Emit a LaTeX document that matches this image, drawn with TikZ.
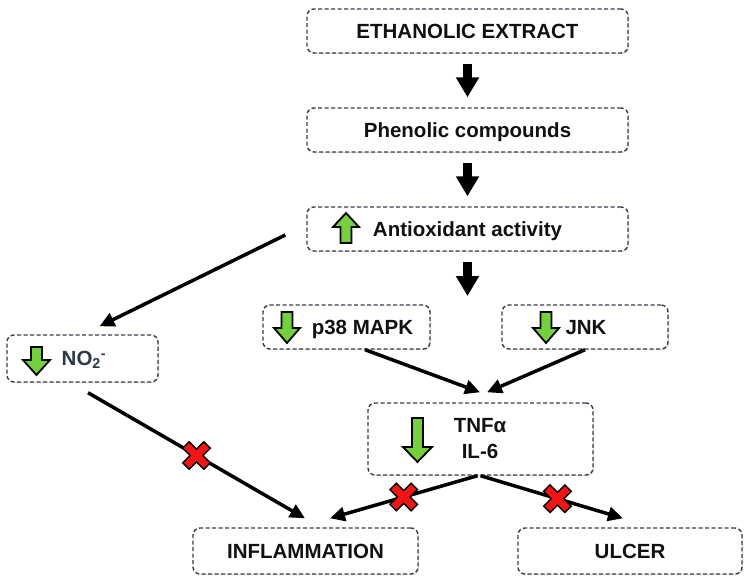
\documentclass[tikz,border=0pt]{standalone}
\usepackage{fontspec}
\setmainfont{Liberation Sans}
\usetikzlibrary{arrows.meta,calc,shadows}
\definecolor{bordc}{RGB}{55,60,75}
\definecolor{txtc}{RGB}{17,17,17}
\definecolor{no2c}{RGB}{45,55,75}
\definecolor{gfill}{RGB}{118,208,62}
\definecolor{xred}{RGB}{240,22,22}
\begin{document}
\begin{tikzpicture}[x=1pt,y=-1pt,
  box/.style={draw=bordc, dash pattern=on 4pt off 2.5pt, line width=1.4pt,
    rounded corners=7pt, fill=white, inner sep=0pt, text=txtc,
    font=\fontsize{20.5}{26}\bfseries\selectfont, text height=14.7pt, text depth=0pt,
    drop shadow={shadow xshift=1pt, shadow yshift=-1pt, fill=black, opacity=0.15}},
  lbl/.style={inner sep=0pt, text=txtc, font=\fontsize{20.5}{26}\bfseries\selectfont,
    text height=14.7pt, text depth=0pt},
  conn/.style={line width=3.5pt, draw=black, -{Triangle[length=15pt,width=14pt]}},
  blockarr/.style={line width=9pt, draw=black, -{Triangle[length=20pt,width=22pt]}},
  garr/.style={draw=black, line width=1.8pt, fill=gfill, line join=miter},
  xmark/.style={draw=black, line width=1.4pt, fill=xred, line join=miter},
  pics/gdown/.style n args={4}{code={
    \path[garr] (-#3/2,0) -- (#3/2,0) -- (#3/2,#2-#4) -- (#1/2,#2-#4) -- (0,#2)
      -- (-#1/2,#2-#4) -- (-#3/2,#2-#4) -- cycle;}},
  pics/redx/.style={code={
    \path[xmark, rotate=45] (4.5,4.5) -- (15,4.5) -- (15,-4.5) -- (4.5,-4.5) -- (4.5,-15)
      -- (-4.5,-15) -- (-4.5,-4.5) -- (-15,-4.5) -- (-15,4.5) -- (-4.5,4.5) -- (-4.5,15)
      -- (4.5,15) -- cycle;}}
]
\useasboundingbox (0,0) rectangle (749,583);

% boxes
\node[box, minimum width=321pt, minimum height=44pt] (ext) at (467.5,31) {ETHANOLIC EXTRACT};
\node[box, minimum width=321pt, minimum height=44pt] (phe) at (467.5,130) {Phenolic compounds};
\node[box, minimum width=321pt, minimum height=44pt] (anti) at (467.5,229) {Antioxidant activity};
\node[box, minimum width=167pt, minimum height=44pt] (p38) at (346.5,327) {};
\node[box, minimum width=166pt, minimum height=44pt] (jnk) at (585,327) {};
\node[box, minimum width=151pt, minimum height=47pt] (no2) at (82.5,358.5) {};
\node[box, minimum width=225pt, minimum height=72pt] (tnf) at (480.5,439) {};
\node[box, minimum width=225pt, minimum height=46pt] (infl) at (305.5,551) {INFLAMMATION};
\node[box, minimum width=224pt, minimum height=46pt] (ulcer) at (630,551) {ULCER};

% labels
\node[lbl] (p38t) at (362.5,327) {p38 MAPK};
\node[lbl] (jnkt) at (586,327) {JNK};
\node[lbl, text=no2c] (no2t) at (84,358.5) {NO\textsubscript{2}\textsuperscript{-}};
\node[lbl, align=center, text height=, text depth=] (tnft) at (480,438.5) {TNFα\\IL-6};

% green arrows
\pic[yscale=-1] at (346,243) {gdown={26}{30}{11}{14}};
\pic at (287,312) {gdown={26}{31}{11}{15}};
\pic at (546,312) {gdown={26}{31}{11}{15}};
\pic at (36.5,347) {gdown={27}{28}{11}{15}};
\pic at (417.5,418) {gdown={29}{44}{11}{15}};

% main block arrows
\coordinate (dn) at (467.5,296);
\draw[blockarr, shorten <=10pt, shorten >=10pt] (ext) -- (phe);
\draw[blockarr, shorten <=10pt, shorten >=10pt] (phe) -- (anti);
\draw[blockarr, shorten <=10pt] (anti) -- (dn);

% connectors
\draw[conn] ($(anti.west)+(-21,6)$) -- ($(no2.north)+(17,-8)$);
\draw[conn] ($(p38.south)+(18.5,0)$) -- ($(tnf.north)+(-0.5,-10)$);
\draw[conn] (jnk.south) -- ($(tnf.north)+(6.5,-10)$);
\draw[conn] ($(no2.south)+(5.5,10)$) -- ($(infl.north)+(-0.5,-9)$) coordinate[pos=0.5] (m1);
\draw[conn] ($(tnf.south)+(-3,0)$) -- ($(infl.north)+(24.5,-9)$) coordinate[pos=0.5] (m2);
\draw[conn] (tnf.south) -- ($(ulcer.north)+(-7,-9)$) coordinate[pos=0.54] (m3);

% inhibition marks
\pic at (m1) {redx};
\pic at (m2) {redx};
\pic at (m3) {redx};
\end{tikzpicture}
\end{document}
